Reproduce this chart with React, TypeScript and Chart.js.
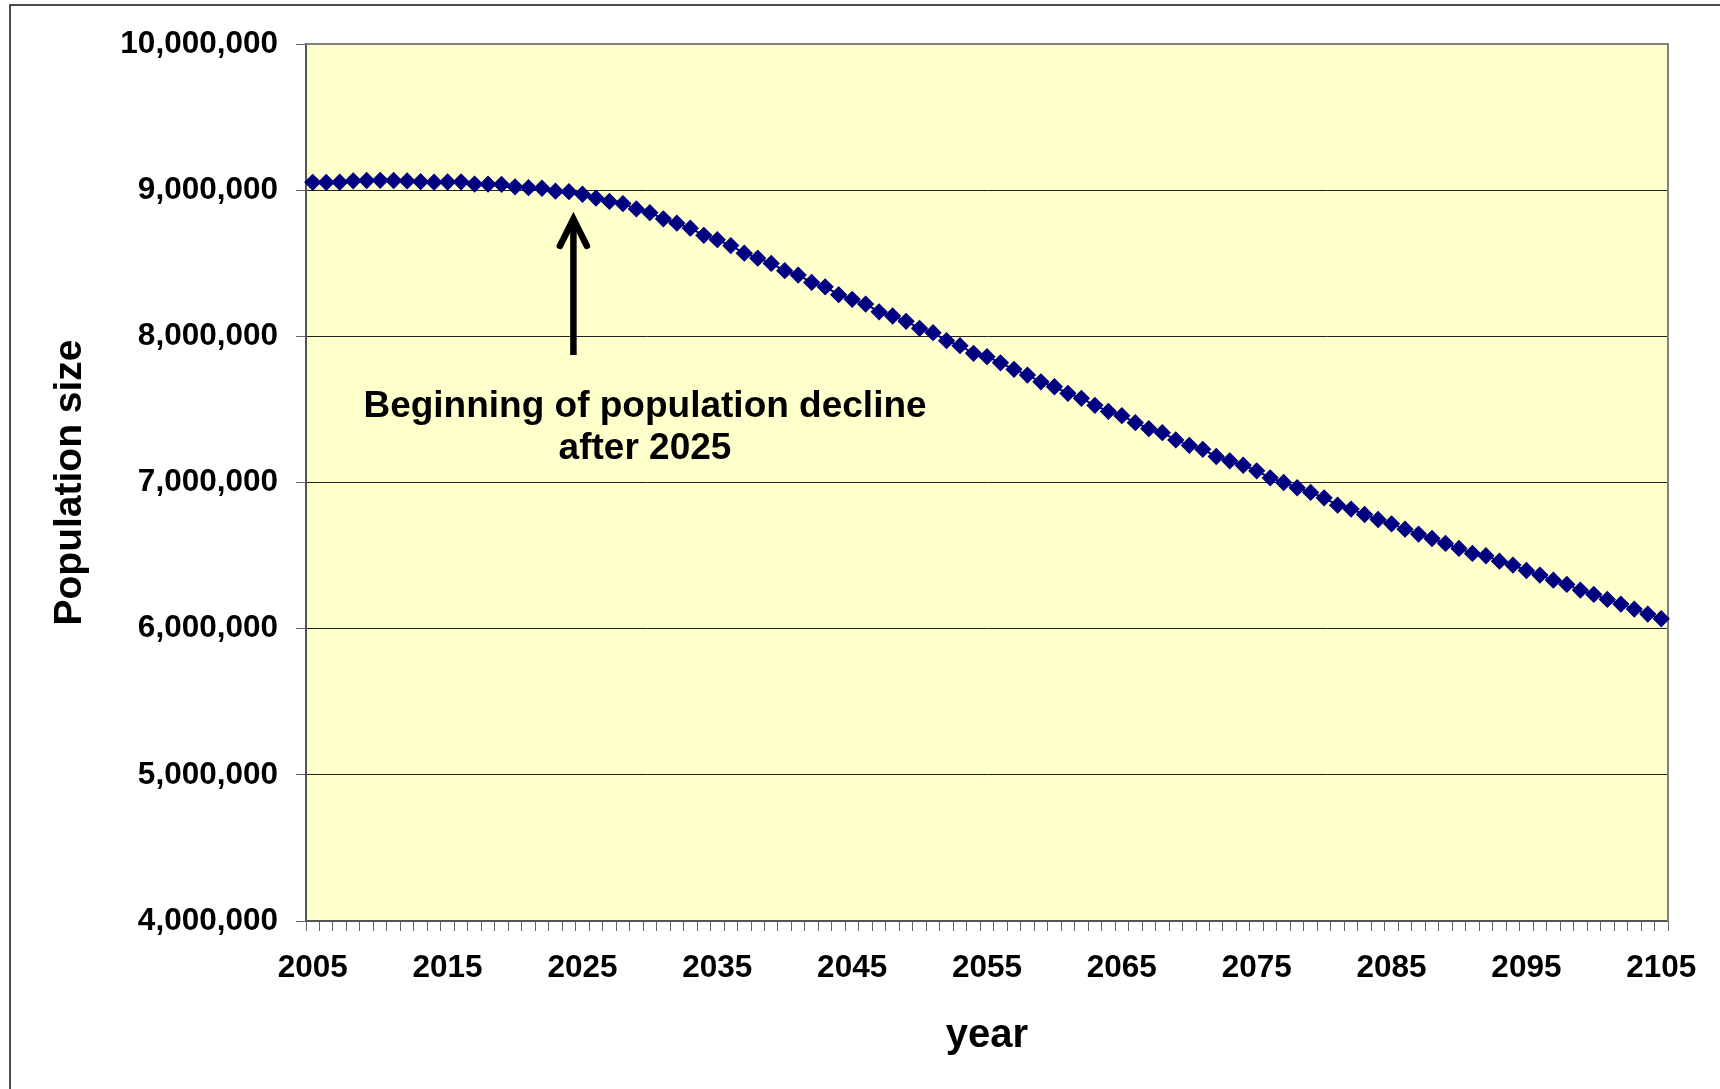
import React, { useEffect, useRef } from "react";
import { Chart, registerables } from "chart.js";

Chart.register(...registerables);

// Projection years, one point per year
const YEARS = [
  2005, 2006, 2007, 2008, 2009, 2010, 2011, 2012, 2013, 2014,
  2015, 2016, 2017, 2018, 2019, 2020, 2021, 2022, 2023, 2024,
  2025, 2026, 2027, 2028, 2029, 2030, 2031, 2032, 2033, 2034,
  2035, 2036, 2037, 2038, 2039, 2040, 2041, 2042, 2043, 2044,
  2045, 2046, 2047, 2048, 2049, 2050, 2051, 2052, 2053, 2054,
  2055, 2056, 2057, 2058, 2059, 2060, 2061, 2062, 2063, 2064,
  2065, 2066, 2067, 2068, 2069, 2070, 2071, 2072, 2073, 2074,
  2075, 2076, 2077, 2078, 2079, 2080, 2081, 2082, 2083, 2084,
  2085, 2086, 2087, 2088, 2089, 2090, 2091, 2092, 2093, 2094,
  2095, 2096, 2097, 2098, 2099, 2100, 2101, 2102, 2103, 2104,
  2105,
];

// Projected population size for each year
const POPULATION = [
  9054000, 9053000, 9055000, 9064000, 9066000, 9067000, 9066000, 9063000, 9058000, 9055000,
  9056000, 9057000, 9042000, 9041000, 9039000, 9023000, 9017000, 9013000, 8993000, 8990000,
  8972000, 8946000, 8923000, 8908000, 8872000, 8846000, 8804000, 8774000, 8740000, 8691000,
  8661000, 8621000, 8569000, 8535000, 8499000, 8449000, 8419000, 8369000, 8339000, 8285000,
  8253000, 8221000, 8168000, 8139000, 8103000, 8055000, 8025000, 7970000, 7936000, 7884000,
  7861000, 7819000, 7774000, 7735000, 7689000, 7655000, 7610000, 7576000, 7528000, 7487000,
  7457000, 7409000, 7368000, 7341000, 7291000, 7254000, 7227000, 7178000, 7148000, 7118000,
  7080000, 7032000, 7000000, 6964000, 6932000, 6895000, 6845000, 6818000, 6781000, 6747000,
  6717000, 6681000, 6647000, 6617000, 6583000, 6549000, 6515000, 6499000, 6462000, 6435000,
  6398000, 6367000, 6332000, 6303000, 6264000, 6234000, 6200000, 6168000, 6134000, 6100000,
  6068000,
];

// Years that get a label on the horizontal axis
const LABELED_YEARS = [2005, 2015, 2025, 2035, 2045, 2055, 2065, 2075, 2085, 2095, 2105];

// Vertical axis range
const Y_MIN = 4000000;
const Y_MAX = 10000000;
const Y_STEP = 1000000;

// Annotation text and its anchor (category index / population value)
const NOTE_LINES = ["Beginning of population decline", "after 2025"];
const NOTE_AT_INDEX = 24.64;
const NOTE_FIRST_BASELINE = 7448000;
const ARROW_AT_INDEX = 19.33;
const ARROW_TIP = 8803000;
const ARROW_TAIL = 7872000;

const FONT = '"Liberation Sans", Arial, Helvetica, sans-serif';

const plotFrame = {
  id: "plotFrame",
  beforeDraw(chart: any) {
    const { ctx, chartArea: a } = chart;
    ctx.save();
    // outer frame of the whole graphic (top and left edges)
    ctx.strokeStyle = "#111";
    ctx.lineWidth = 1.5;
    ctx.beginPath();
    ctx.moveTo(10, chart.height);
    ctx.lineTo(10, 5);
    ctx.lineTo(chart.width, 5);
    ctx.stroke();
    // pale yellow plot background
    ctx.fillStyle = "#FFFFCC";
    ctx.fillRect(a.left, a.top, a.right - a.left, a.bottom - a.top);
    ctx.restore();
  },
  beforeDatasetsDraw(chart: any) {
    const { ctx, chartArea: a } = chart;
    ctx.save();
    ctx.strokeStyle = "#808080";
    ctx.lineWidth = 2;
    ctx.beginPath();
    ctx.moveTo(a.left, a.top);
    ctx.lineTo(a.right, a.top);
    ctx.lineTo(a.right, a.bottom);
    ctx.stroke();
    ctx.restore();
  },
};

const declineNote = {
  id: "declineNote",
  afterDatasetsDraw(chart: any) {
    const { ctx } = chart;
    const xs = chart.scales.x;
    const ys = chart.scales.y;
    ctx.save();

    // arrow pointing up at the curve
    const ax = xs.getPixelForValue(ARROW_AT_INDEX);
    const tipY = ys.getPixelForValue(ARROW_TIP);
    const tailY = ys.getPixelForValue(ARROW_TAIL);
    ctx.strokeStyle = "#000";
    ctx.lineWidth = 6.5;
    ctx.lineCap = "butt";
    ctx.beginPath();
    ctx.moveTo(ax, tailY);
    ctx.lineTo(ax, tipY + 4);
    ctx.stroke();
    ctx.lineCap = "round";
    ctx.lineJoin = "miter";
    ctx.beginPath();
    ctx.moveTo(ax - 13.5, tipY + 27);
    ctx.lineTo(ax, tipY);
    ctx.lineTo(ax + 13.5, tipY + 27);
    ctx.stroke();

    // caption
    const tx = xs.getPixelForValue(NOTE_AT_INDEX);
    const ty = ys.getPixelForValue(NOTE_FIRST_BASELINE);
    ctx.fillStyle = "#000";
    ctx.font = `bold 37px ${FONT}`;
    ctx.textAlign = "center";
    ctx.textBaseline = "alphabetic";
    NOTE_LINES.forEach((line, i) => ctx.fillText(line, tx, ty + i * 41.5));
    ctx.restore();
  },
};

export default function App() {
  const canvasRef = useRef<HTMLCanvasElement>(null);

  useEffect(() => {
    const canvas = canvasRef.current;
    if (!canvas) return;
    const chart = new Chart(canvas, {
      type: "line",
      data: {
        labels: YEARS.map(String),
        datasets: [
          {
            label: "Population size",
            data: POPULATION,
            borderColor: "#000080",
            borderWidth: 2,
            backgroundColor: "#000080",
            pointStyle: "rectRot",
            pointRadius: 7.8,
            pointBackgroundColor: "#000080",
            pointBorderColor: "#000080",
            pointBorderWidth: 1.2,
            tension: 0,
          },
        ],
      },
      options: {
        responsive: false,
        animation: false,
        devicePixelRatio: 1,
        layout: { padding: { top: 44, right: 52, bottom: 0, left: 0 } },
        plugins: {
          legend: { display: false },
          tooltip: { enabled: false },
        },
        scales: {
          x: {
            type: "category",
            offset: true,
            grid: {
              offset: true,
              drawOnChartArea: false,
              drawTicks: true,
              tickLength: 10,
              tickColor: "#666",
              tickWidth: 1,
            },
            border: { color: "#555", width: 2 },
            ticks: {
              autoSkip: false,
              maxRotation: 0,
              minRotation: 0,
              padding: 18,
              color: "#000",
              font: { family: FONT, size: 31.5, weight: "bold" },
              callback: (_v: any, index: number) =>
                LABELED_YEARS.includes(YEARS[index]) ? String(YEARS[index]) : "",
            },
            title: {
              display: true,
              text: "year",
              color: "#000",
              font: { family: FONT, size: 40, weight: "bold" },
              padding: { top: 0, bottom: 29 },
            },
            afterFit: (scale: any) => {
              scale.height = 168;
            },
          },
          y: {
            min: Y_MIN,
            max: Y_MAX,
            grid: {
              color: "#222",
              lineWidth: 1,
              drawTicks: true,
              tickLength: 10,
              tickColor: "#666",
            },
            border: { color: "#555", width: 2 },
            ticks: {
              stepSize: Y_STEP,
              padding: 18,
              color: "#000",
              font: { family: FONT, size: 31.5, weight: "bold" },
              callback: (v: any) => Number(v).toLocaleString("en-US"),
            },
            title: {
              display: true,
              text: "Population size",
              color: "#000",
              font: { family: FONT, size: 39, weight: "bold" },
              padding: { top: 47, bottom: 0 },
            },
            afterFit: (scale: any) => {
              scale.width = 306;
            },
          },
        },
      },
      plugins: [plotFrame, declineNote],
    } as any);
    return () => chart.destroy();
  }, []);

  return (
    <div style={{ position: "absolute", left: 0, top: 0, width: 1720, height: 1089, background: "#fff" }}>
      <canvas ref={canvasRef} width={1720} height={1089} style={{ display: "block", width: 1720, height: 1089 }} />
    </div>
  );
}
